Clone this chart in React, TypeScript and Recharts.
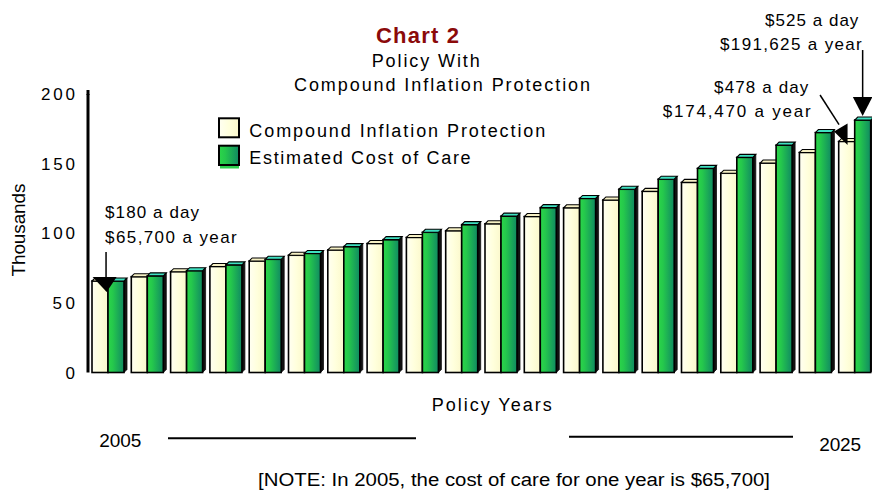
import { Bar, BarChart, Legend, ReferenceDot, XAxis, YAxis } from "recharts";

const years = [
  "2005", "2006", "2007", "2008", "2009", "2010", "2011", "2012", "2013", "2014",
  "2015", "2016", "2017", "2018", "2019", "2020", "2021", "2022", "2023", "2024",
];
// thousands of dollars per year
const compoundInflation = [
  65.7, 68.8, 72.4, 76.1, 80.1, 84.2, 88.0, 92.6, 97.0, 101.8,
  106.8, 112.0, 118.3, 123.9, 130.1, 136.5, 143.1, 150.4, 158.0, 165.9,
];
const costOfCare = [
  65.7, 69.4, 73.1, 77.3, 81.3, 85.5, 90.4, 95.4, 100.7, 106.2,
  112.3, 118.4, 125.0, 131.6, 138.8, 146.6, 154.5, 163.3, 172.3, 181.3,
];
const yTicks = [0, 50, 100, 150, 200];

const data = years.map((year, i) => ({
  year,
  compound: compoundInflation[i],
  cost: costOfCare[i],
}));

const FONT = '"Liberation Sans", Arial, sans-serif';

function bar3D(face: string, top: string) {
  return (props: any) => {
    const { x, y, width: w, height: h } = props;
    if (w == null || h == null) return <g />;
    const d = 3;
    return (
      <g>
        <polygon
          points={`${x + w},${y} ${x + w + d},${y - d} ${x + w + d},${y + h - d} ${x + w},${y + h}`}
          fill="#111"
          stroke="#111"
          strokeWidth={0.8}
        />
        <rect x={x} y={y} width={w} height={h} fill={face} stroke="#000" strokeWidth={1.6} />
        <polygon
          points={`${x},${y} ${x + d},${y - d} ${x + w + d},${y - d} ${x + w},${y}`}
          fill={top}
          stroke="#000"
          strokeWidth={1.1}
        />
      </g>
    );
  };
}

const YTick = ({ x, y, payload }: any) => {
  const s = String(payload.value);
  return (
    <text
      x={x}
      y={y}
      dy={6}
      textAnchor="end"
      fontFamily={FONT}
      fontSize={17}
      fill="#000"
      textLength={s.length * 11.3}
      lengthAdjust="spacing"
    >
      {s}
    </text>
  );
};

const txt = (x: number, y: number, s: string, len: number, anchor = "start", size = 17) => (
  <text
    x={x}
    y={y}
    textAnchor={anchor}
    fontFamily={FONT}
    fontSize={size}
    fill="#000"
    textLength={len}
    lengthAdjust="spacing"
  >
    {s}
  </text>
);

// callouts, anchored on the bar they point at
const firstYear = ({ cx, cy }: any) => (
  <g>
    {txt(cx - 2.6, cy - 63.3, "$180 a day", 94)}
    {txt(cx - 2.6, cy - 37.7, "$65,700 a year", 131.7)}
    <line x1={cx - 1.6} y1={cy - 29} x2={cx - 1.6} y2={cy - 4} stroke="#000" strokeWidth={1.5} />
    <polygon points={`${cx - 15},${cy - 4} ${cx + 9},${cy - 4} ${cx - 1},${cy + 11}`} fill="#000" />
  </g>
);

const lastYear = ({ cx, cy }: any) => (
  <g>
    {txt(cx + 4, cy - 94.3, "$525 a day", 93.3, "end")}
    {txt(cx + 7.4, cy - 70.3, "$191,625 a year", 141.7, "end")}
    <line x1={cx + 8.3} y1={cy - 70} x2={cx + 8.3} y2={cy - 23} stroke="#000" strokeWidth={1.5} />
    <polygon points={`${cx - 1.5},${cy - 23} ${cx + 18},${cy - 23} ${cx + 8.3},${cy - 4}`} fill="#000" />
  </g>
);

const prevYear = ({ cx, cy }: any) => (
  <g>
    {txt(cx - 6.7, cy - 39.9, "$478 a day", 94.3, "end")}
    {txt(cx - 4.3, cy - 15.3, "$174,470 a  year", 148, "end")}
    <line x1={cx + 5} y1={cy - 37.6} x2={cx + 24} y2={cy - 8} stroke="#000" strokeWidth={1.5} />
    <polygon points={`${cx + 19},${cy - 1} ${cx + 32.5},${cy - 9} ${cx + 32.5},${cy + 12.5}`} fill="#000" />
  </g>
);

const LegendBox = () => (
  <svg width={345} height={56} style={{ display: "block" }}>
    <rect x={2} y={2.3} width={20} height={19} fill="url(#creamGrad)" stroke="#000" strokeWidth={2} />
    {txt(32.3, 21.3, "Compound Inflation Protection", 296, "start", 18)}
    <rect x={3} y={50} width={19} height={2.5} fill="#2ccf4e" />
    <rect x={2} y={29.7} width={20} height={19.3} fill="url(#greenGrad)" stroke="#000" strokeWidth={2} />
    {txt(32.3, 48, "Estimated Cost of Care", 221.3, "start", 18)}
  </svg>
);

export default function App() {
  const last = years.length - 1;
  return (
    <div
      style={{
        position: "absolute",
        left: 0,
        top: 0,
        width: 872,
        height: 491,
        overflow: "hidden",
        background: "#fff",
      }}
    >
      <svg width={0} height={0} style={{ position: "absolute" }}>
        <defs>
          <linearGradient id="creamGrad" x1="0" y1="0" x2="1" y2="0">
            <stop offset="0" stopColor="#fffff2" />
            <stop offset="0.5" stopColor="#ffffdc" />
            <stop offset="1" stopColor="#fbf8cc" />
          </linearGradient>
          <linearGradient id="greenGrad" x1="0" y1="0" x2="1" y2="0">
            <stop offset="0" stopColor="#2bd649" />
            <stop offset="0.3" stopColor="#25c84c" />
            <stop offset="1" stopColor="#108a62" />
          </linearGradient>
        </defs>
      </svg>
      <BarChart
        width={875}
        height={491}
        data={data}
        margin={{ top: 94, right: 1, bottom: 118.5, left: 28 }}
        barCategoryGap={4}
        barGap={0}
      >
        <XAxis dataKey="year" tick={false} tickLine={false} height={0} axisLine={{ stroke: "#444", strokeWidth: 2 }} />
        <YAxis
          width={60}
          domain={[0, 200]}
          ticks={yTicks}
          interval={0}
          tickLine={false}
          tickSize={0}
          tickMargin={13}
          tick={<YTick />}
          axisLine={{ stroke: "#000", strokeWidth: 3 }}
        />
        <Legend
          layout="vertical"
          align="center"
          verticalAlign="middle"
          wrapperStyle={{ left: 217, top: 116, width: 345, height: 56 }}
          content={() => <LegendBox />}
        />
        <Bar
          dataKey="compound"
          name="Compound Inflation Protection"
          fill="url(#creamGrad)"
          shape={bar3D("url(#creamGrad)", "#f6f0c4")}
          isAnimationActive={false}
        />
        <Bar
          dataKey="cost"
          name="Estimated Cost of Care"
          fill="url(#greenGrad)"
          shape={bar3D("url(#greenGrad)", "#3fe0c0")}
          isAnimationActive={false}
        />
        <ReferenceDot x={years[0]} y={costOfCare[0]} ifOverflow="visible" shape={firstYear} />
        <ReferenceDot x={years[last - 1]} y={costOfCare[last - 1]} ifOverflow="visible" shape={prevYear} />
        <ReferenceDot x={years[last]} y={costOfCare[last]} ifOverflow="visible" shape={lastYear} />
      </BarChart>
      <svg
        width={872}
        height={491}
        style={{ position: "absolute", left: 0, top: 0, pointerEvents: "none" }}
      >
        <line x1={88} y1={90} x2={88} y2={95} stroke="#000" strokeWidth={3} />
        <text x={376} y={42.7} fontFamily={FONT} fontSize={22} fontWeight="bold" fill="#8b0a0a" textLength={83} lengthAdjust="spacing">
          Chart 2
        </text>
        {txt(371.7, 66.7, "Policy With", 108, "start", 18)}
        {txt(294, 90.5, "Compound Inflation Protection", 296, "start", 18)}
        <g transform="rotate(-90, 25, 230)">{txt(25, 230, "Thousands", 93, "middle", 19)}</g>
        {txt(431.7, 411, "Policy Years", 120, "start", 18)}
        {txt(99.3, 446.7, "2005", 42, "start", 19)}
        <line x1={168} y1={438.3} x2={416} y2={438.3} stroke="#000" strokeWidth={2} />
        <line x1={569} y1={436.7} x2={793} y2={436.7} stroke="#000" strokeWidth={2} />
        {txt(819.3, 450.7, "2025", 41.7, "start", 19)}
        <text x={258} y={486} fontFamily={FONT} fontSize={18} fill="#000" textLength={512} lengthAdjust="spacingAndGlyphs">
          [NOTE: In 2005, the cost of care for one year is $65,700]
        </text>
      </svg>
    </div>
  );
}
